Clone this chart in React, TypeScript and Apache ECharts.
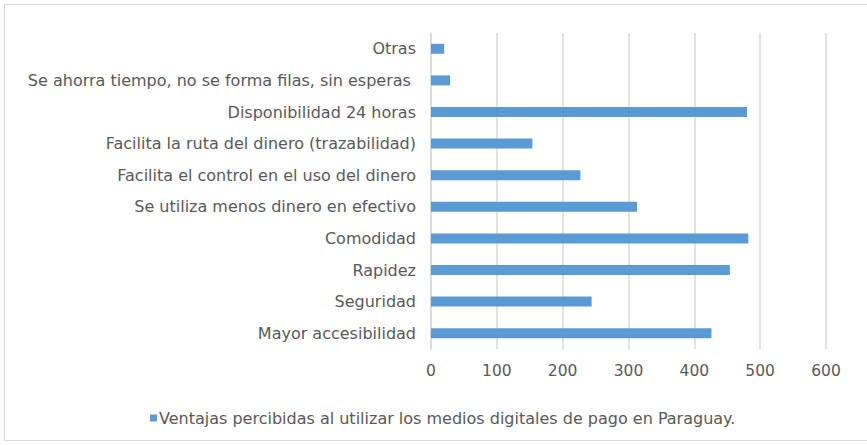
import React, { useEffect, useRef } from "react";
import * as echarts from "echarts";

const categories = [
  "Mayor accesibilidad",
  "Seguridad",
  "Rapidez",
  "Comodidad",
  "Se utiliza menos dinero en efectivo",
  "Facilita el control en el uso del dinero",
  "Facilita la ruta del dinero (trazabilidad)",
  "Disponibilidad 24 horas",
  "Se ahorra tiempo, no se forma filas, sin esperas ",
  "Otras",
];
const values = [426, 244, 454, 482, 313, 227, 154, 480, 29, 20];
const seriesName = "Ventajas percibidas al utilizar los medios digitales de pago en Paraguay.";
const xMin = 0;
const xMax = 600;
const xStep = 100;

export default function App() {
  const ref = useRef<HTMLDivElement>(null);
  useEffect(() => {
    if (!ref.current) return;
    const chart = echarts.init(ref.current, undefined, { renderer: "svg" });
    const font = "'DejaVu Sans', Verdana, sans-serif";
    chart.setOption({
      animation: false,
      backgroundColor: "#ffffff",
      textStyle: { fontFamily: font },
      graphic: [
        {
          type: "rect",
          shape: { x: 4.5, y: 4.5, width: 870, height: 436 },
          style: { fill: "none", stroke: "#d9d9d9", lineWidth: 1 },
          silent: true,
        },
      ],
      grid: { left: 431, right: 41, top: 33, bottom: 96, containLabel: false },
      xAxis: {
        type: "value",
        min: xMin,
        max: xMax,
        interval: xStep,
        axisLine: { show: false },
        axisTick: { show: false },
        splitLine: { show: true, lineStyle: { color: "#d9d9d9", width: 1.5 } },
        axisLabel: { color: "#595959", fontSize: 15.5, margin: 14, fontFamily: font },
      },
      yAxis: {
        type: "category",
        data: categories,
        axisLine: { show: true, lineStyle: { color: "#d9d9d9", width: 1.5 } },
        axisTick: { show: false },
        axisLabel: { color: "#595959", fontSize: 16, margin: 15, fontFamily: font },
      },
      legend: {
        data: [seriesName],
        left: 145,
        top: 405,
        icon: "rect",
        itemWidth: 7,
        itemHeight: 7,
        itemGap: 3,
        textStyle: { color: "#595959", fontSize: 16, fontFamily: font, padding: [0, 0, 0, -3] },
      },
      series: [
        {
          name: seriesName,
          type: "bar",
          data: values,
          barWidth: 10,
          itemStyle: { color: "#5b9bd5" },
        },
      ],
    });
    return () => chart.dispose();
  }, []);
  return (
    <div
      ref={ref}
      style={{ position: "fixed", left: 0, top: 0, width: 867, height: 445 }}
    />
  );
}
